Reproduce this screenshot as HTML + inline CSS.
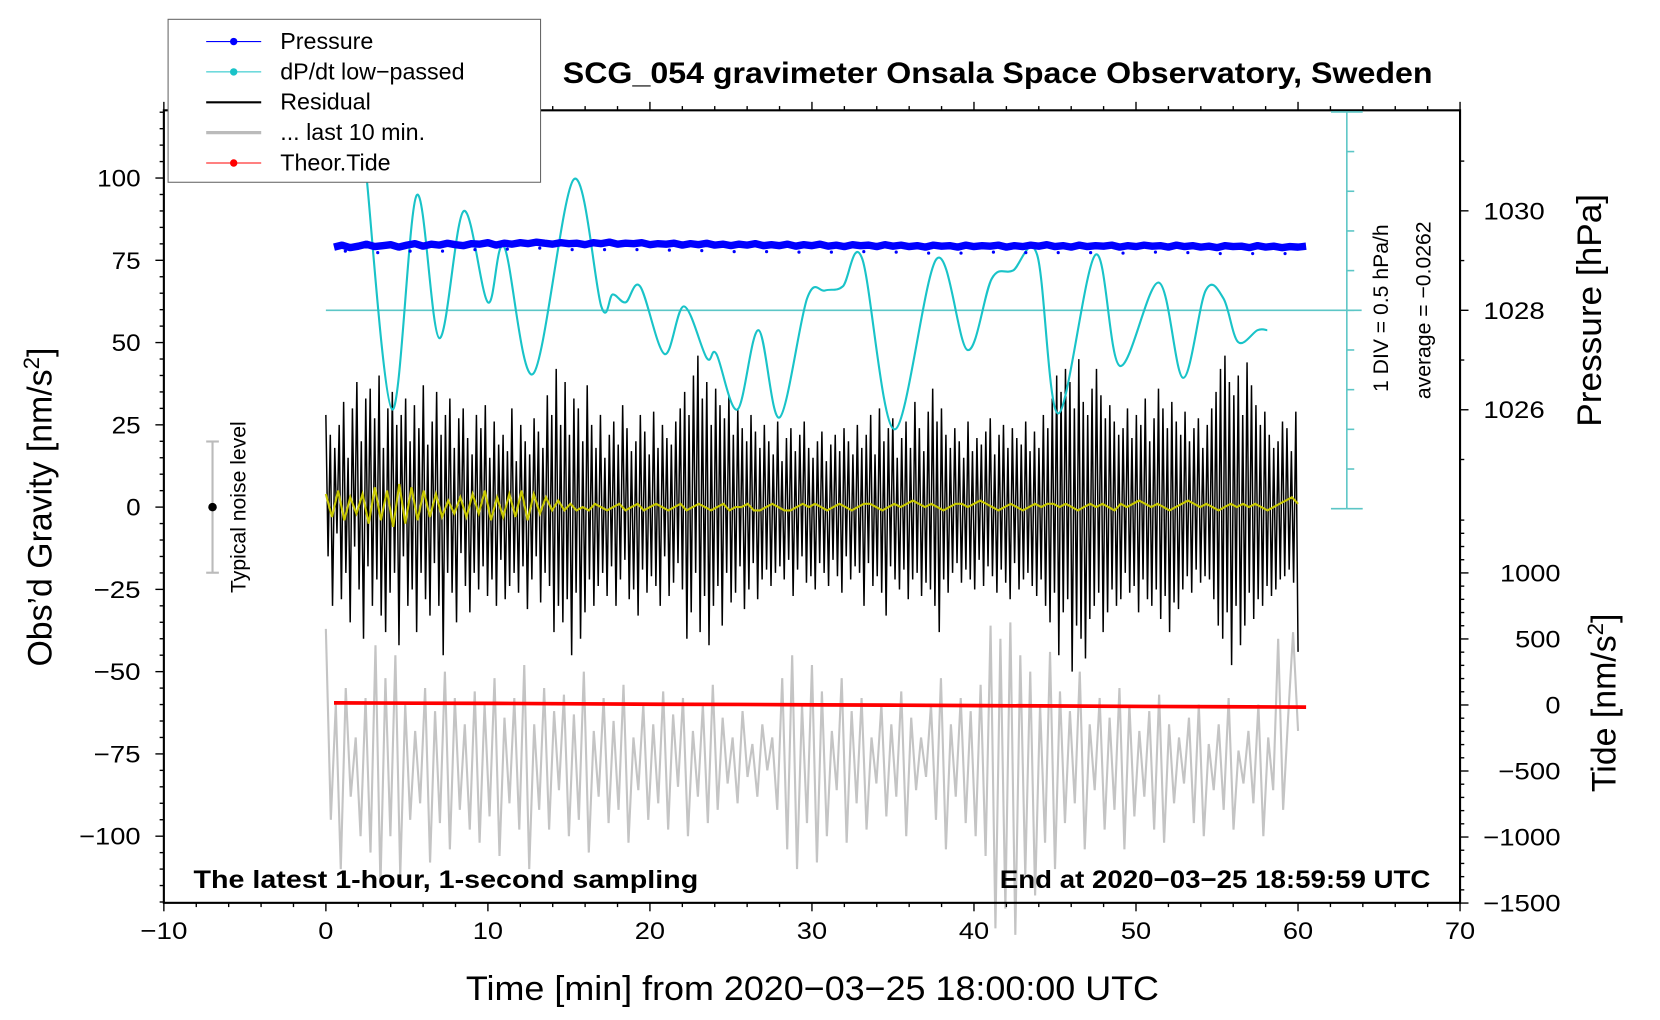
<!DOCTYPE html>
<html><head><meta charset="utf-8">
<style>
html,body{margin:0;padding:0;background:#fff;}
svg{display:block;font-family:"Liberation Sans",sans-serif;}
</style></head>
<body>
<svg id="chart" width="1660" height="1020" viewBox="0 0 1550 952.4" xmlns="http://www.w3.org/2000/svg"><g id="root" transform="translate(153,103) scale(0.988) translate(-153,-103)"></g></svg>
<script>
// ---- data ----
const xTicks=[-10,0,10,20,30,40,50,60,70];
const gravTicks=[100,75,50,25,0,-25,-50,-75,-100];
const pressTicks=[1030,1028,1026];
const tideTicks=[1000,500,0,-500,-1000,-1500];
// dP/dt low-passed (divisions from center line, 1 div = 0.5 hPa/h)
const dpT=[2.5,4.1,5.6,7,8.5,10,11,12.8,15.3,17,17.7,18.5,19.4,20.9,22.1,23.5,24.1,25.4,26.7,28,29.7,30.8,31.9,33.1,35.1,37.7,39.6,41.1,42.4,43.9,45.2,47.5,49,51.4,52.9,54.3,55.4,56.3,57.5,58.1];
const dpV=[3.4,-2.5,2.9,-0.7,2.5,0.2,1.6,-1.6,3.3,0.1,0.4,0.2,0.6,-1.1,0.1,-1.2,-1.1,-2.5,-0.5,-2.7,0.3,0.5,0.6,1.3,-3.0,1.3,-1.0,0.8,1.0,1.4,-2.6,1.4,-1.4,0.7,-1.7,0.5,0.3,-0.8,-0.5,-0.5];
// Pressure (hPa), every 0.5 min from 0.5
const pressV=[1029.27,1029.31,1029.26,1029.29,1029.33,1029.28,1029.30,1029.32,1029.27,1029.31,1029.34,1029.29,1029.33,1029.31,1029.35,1029.32,1029.30,1029.34,1029.33,1029.36,1029.31,1029.35,1029.33,1029.36,1029.34,1029.37,1029.35,1029.33,1029.36,1029.34,1029.35,1029.32,1029.36,1029.34,1029.37,1029.33,1029.35,1029.34,1029.36,1029.32,1029.34,1029.33,1029.35,1029.31,1029.34,1029.32,1029.35,1029.31,1029.33,1029.30,1029.33,1029.31,1029.34,1029.30,1029.32,1029.30,1029.33,1029.29,1029.32,1029.30,1029.33,1029.29,1029.31,1029.28,1029.32,1029.30,1029.31,1029.28,1029.32,1029.29,1029.31,1029.28,1029.30,1029.27,1029.31,1029.29,1029.30,1029.27,1029.31,1029.28,1029.30,1029.29,1029.31,1029.27,1029.30,1029.28,1029.31,1029.29,1029.32,1029.28,1029.30,1029.27,1029.31,1029.28,1029.30,1029.29,1029.31,1029.27,1029.30,1029.28,1029.31,1029.29,1029.30,1029.27,1029.31,1029.28,1029.30,1029.27,1029.29,1029.26,1029.30,1029.28,1029.29,1029.26,1029.30,1029.27,1029.29,1029.26,1029.28,1029.27,1029.29];
// Residual (nm/s^2)
const resV=[28,-15,22,-30,18,-8,25,-28,32,-20,15,-35,30,-12,38,-25,20,-40,33,-18,36,-30,27,-22,40,-33,18,-38,30,-26,35,-20,25,-42,28,-15,33,-30,20,-25,
31,-38,24,-20,37,-28,19,-33,26,-17,35,-30,22,-45,28,-20,33,-26,18,-35,27,-14,30,-24,21,-32,16,-20,28,-25,24,-18,31,-27,15,-22,26,-30,19,-16,
22,-28,17,-24,30,-20,14,-26,25,-18,20,-31,16,-22,27,-15,23,-29,18,-20,34,-24,28,-38,42,-30,25,-35,38,-28,22,-45,33,-26,30,-40,20,-32,37,-22,
25,-30,18,-24,28,-20,15,-27,22,-18,26,-30,19,-22,31,-16,24,-28,17,-25,20,-33,28,-19,23,-26,16,-21,29,-24,18,-30,25,-15,21,-27,19,-23,26,-17,
30,-25,35,-40,28,-32,40,-20,46,-38,33,-27,38,-42,25,-30,36,-24,31,-36,27,-20,34,-29,22,-26,30,-18,24,-31,20,-25,28,-17,23,-28,18,-22,25,-19,
20,-24,16,-20,26,-18,14,-22,21,-16,24,-27,17,-19,22,-15,26,-23,18,-21,15,-25,20,-17,23,-20,14,-24,19,-16,22,-21,17,-26,24,-15,20,-22,16,-18,
25,-20,18,-30,22,-17,28,-24,16,-21,30,-26,20,-33,24,-18,27,-22,15,-25,21,-19,26,-28,18,-22,32,-20,24,-27,17,-23,29,-25,36,-30,26,-38,30,-22,
22,-26,18,-20,24,-17,20,-23,15,-19,26,-22,17,-25,21,-16,19,-24,23,-18,27,-21,16,-26,22,-19,25,-23,18,-28,24,-17,21,-25,19,-22,26,-20,17,-24,
23,-27,18,-22,28,-30,24,-35,33,-26,40,-45,35,-32,42,-28,38,-50,30,-36,45,-40,32,-46,28,-34,36,-30,42,-26,34,-38,27,-32,31,-25,26,-30,22,-28,
24,-20,30,-26,21,-24,28,-32,25,-22,33,-28,20,-30,27,-25,36,-34,30,-27,24,-38,32,-29,26,-31,22,-25,29,-21,20,-26,24,-19,27,-23,18,-21,25,-22,
30,-28,35,-36,42,-40,46,-32,38,-48,34,-30,40,-42,28,-36,44,-26,37,-34,31,-28,25,-30,29,-24,22,-27,18,-25,20,-22,26,-21,24,-19,17,-23,29,-44];
// Last 10 min (nm/s^2 on gravity axis)
const grayV=[-37,-95,-60,-110,-55,-88,-70,-100,-58,-105,-42,-115,-52,-100,-45,-112,-60,-95,-68,-90,-55,-108,-62,-96,-50,-104,-58,-92,-66,-98,-56,-102,-60,-94,-52,-106,-64,-90,-58,-98,
-48,-110,-66,-92,-55,-98,-62,-86,-57,-100,-63,-95,-50,-105,-68,-88,-58,-96,-65,-92,-54,-102,-70,-86,-60,-95,-66,-90,-56,-98,-63,-85,-58,-100,-68,-88,-60,-96,-54,-92,
-64,-84,-70,-90,-62,-82,-72,-88,-66,-80,-70,-92,-52,-104,-45,-110,-60,-96,-48,-108,-56,-100,-68,-86,-52,-102,-62,-90,-58,-98,-70,-84,-60,-94,-66,-88,-56,-100,-64,-86,
-70,-82,-60,-95,-52,-104,-66,-88,-58,-96,-62,-100,-54,-106,-36,-128,-40,-122,-35,-130,-45,-112,-50,-118,-60,-102,-44,-110,-56,-96,-62,-90,-50,-104,-66,-86,-58,-98,
-64,-92,-55,-104,-60,-94,-68,-88,-62,-98,-57,-102,-66,-90,-70,-84,-64,-96,-60,-100,-72,-86,-66,-92,-58,-98,-74,-84,-68,-90,-60,-100,-70,-86,-40,-92,-64,-38,-68];
// Yellow (low-passed residual)
const yelV=[4,-3,5,-4,3,-2,4,-5,6,-4,5,-6,7,-5,6,-4,5,-3,4,-3,2,-2,3,-3,4,-2,5,-4,3,-3,4,-3,5,-4,4,-2,3,-1,2,-1,
1,-1,0,-1,1,0,-1,0,1,-1,0,1,-1,0,1,0,-1,0,1,-1,0,1,0,-1,0,1,-1,0,0,1,-1,-1,0,1,0,-1,-1,0,1,0,
1,0,-1,0,1,0,-1,0,1,1,0,-1,0,1,0,1,2,1,0,1,0,-1,0,1,1,0,1,2,1,0,-1,0,1,0,-1,0,1,0,1,1,
0,1,0,-1,0,1,0,1,0,-1,1,0,1,2,1,0,1,0,-1,0,1,2,1,0,1,0,-1,0,1,0,1,0,1,0,-1,0,1,2,3,1];
// Theoretical tide (nm/s^2), every 5 min from 0.5
const tideV=[16,14,12,9,6,4,1,-2,-5,-8,-11,-14,-16];

// ---- scales ----
const L=153,R=1378,T=103,B=852;
const xs=v=>L+(v+10)*(R-L)/80;
const gy=v=>478-v*3.11;
const py=v=>292-(v-1028)*47;
const ty=v=>665-v*0.1248;
const dy=v=>292-v*37.5;

const NS='http://www.w3.org/2000/svg';
const svg=document.getElementById('root');
function mk(tag,attrs,parent){const e=document.createElementNS(NS,tag);for(const k in attrs)e.setAttribute(k,attrs[k]);(parent||svg).appendChild(e);return e;}
function txt(s,attrs,parent){const e=mk('text',attrs,parent);e.textContent=s;return e;}
function numLen(s,dw,mw){let n=0;for(const c of s){n+=(c==='\u2212')?mw:dw;}return n;}

// ---- series ----
let d='';grayV.forEach((v,i)=>{d+=(i?'L':'M')+xs(i*60/(grayV.length-1)).toFixed(1)+' '+gy(v).toFixed(1);});
const gp=mk('path',{d:d,fill:'none',stroke:'#c4c4c4','stroke-width':2});


d='';resV.forEach((v,i)=>{d+=(i?'L':'M')+xs(i*60/(resV.length-1)).toFixed(1)+' '+gy(v).toFixed(1);});
const rp=mk('path',{d:d,fill:'none',stroke:'#000','stroke-width':1.4});


d='';yelV.forEach((v,i)=>{d+=(i?'L':'M')+xs(i*60/(yelV.length-1)).toFixed(1)+' '+gy(v).toFixed(1);});
const yp=mk('path',{d:d,fill:'none',stroke:'#c8c800','stroke-width':2});


d='';tideV.forEach((v,i)=>{d+=(i?'L':'M')+xs(0.5+i*5).toFixed(1)+' '+ty(v).toFixed(1);});
const tp=mk('path',{d:d,fill:'none',stroke:'#f00','stroke-width':3.5});


const cl=mk('line',{x1:xs(0),x2:1285,y1:dy(0),y2:dy(0),stroke:'#5cc6c6','stroke-width':1.5});


function smooth(pts){let s='M'+pts[0][0]+' '+pts[0][1];for(let i=0;i<pts.length-1;i++){const p0=pts[Math.max(0,i-1)],p1=pts[i],p2=pts[i+1],p3=pts[Math.min(pts.length-1,i+2)];
const c1x=p1[0]+(p2[0]-p0[0])/6,c1y=p1[1]+(p2[1]-p0[1])/6,c2x=p2[0]-(p3[0]-p1[0])/6,c2y=p2[1]-(p3[1]-p1[1])/6;
s+='C'+c1x.toFixed(1)+' '+c1y.toFixed(1)+' '+c2x.toFixed(1)+' '+c2y.toFixed(1)+' '+p2[0].toFixed(1)+' '+p2[1].toFixed(1);}return s;}
const clip=mk('clipPath',{id:'pc'});mk('rect',{x:L,y:T,width:R-L,height:B-T},clip);
const dp=mk('path',{d:smooth(dpT.map((t,i)=>[xs(t),dy(dpV[i])])),fill:'none',stroke:'#19c3c8','stroke-width':2,'clip-path':'url(#pc)'});


const pg=mk('g',{fill:'#0000ff'});


d='';pressV.forEach((v,i)=>{d+=(i?'L':'M')+xs(0.5+i*0.5).toFixed(1)+' '+py(v).toFixed(1);});
mk('path',{d:d,fill:'none',stroke:'#0000ff','stroke-width':7,'stroke-linejoin':'bevel'},pg);
pressV.forEach((v,i)=>{if(i%4===1){const c=mk('circle',{cx:xs(0.5+i*0.5+0.2),cy:py(v-0.12),r:1.5},pg);

}});

// ---- frame & axes ----
const ax=mk('g',{stroke:'#000','stroke-width':1.3,fill:'none'});


mk('rect',{x:L,y:T,width:R-L,height:B-T,'stroke-width':2},ax);
for(let v=-10;v<=70;v+=2){const M=v%10===0;const x=xs(v);mk('line',{x1:x,x2:x,y1:B,y2:B+(M?8:4)},ax);mk('line',{x1:x,x2:x,y1:T,y2:T-(M?8:4)},ax);}
for(let v=-120;v<=120;v+=5){const M=v%25===0;const y=gy(v);mk('line',{x1:L,x2:L-(M?8:4),y1:y,y2:y},ax);}
for(let v=1025;v<=1031;v++){const y=py(v);mk('line',{x1:R,x2:R+(v%2===0?8:4),y1:y,y2:y},ax);}
for(let v=-1500;v<=1400;v+=100){const y=ty(v);if(y<478)continue;mk('line',{x1:R,x2:R+(v%500===0?8:4),y1:y,y2:y},ax);}
const sb=mk('g',{stroke:'#5cc6c6','stroke-width':1.5});


mk('line',{x1:1271,x2:1271,y1:dy(5),y2:dy(-5)},sb);
for(let k=-5;k<=5;k++){const y=dy(k);const w=(k===5||k===-5)?15:7;mk('line',{x1:1271,x2:1271+w,y1:y,y2:y},sb);if(k===5||k===-5)mk('line',{x1:1256,x2:1271,y1:y,y2:y},sb);}

// tick labels
const tl=mk('g',{'font-size':23,fill:'#000'});
const LA='spacingAndGlyphs';
xTicks.forEach(v=>{const s=String(v).replace('-','\u2212');const e=txt(s,{x:xs(v),y:B+34,'text-anchor':'middle',textLength:numLen(s,14.3,16),lengthAdjust:LA},tl);});
gravTicks.forEach(v=>{const s=String(v).replace('-','\u2212');const e=txt(s,{x:131,y:gy(v)+8,'text-anchor':'end',textLength:numLen(s,13.7,17),lengthAdjust:LA},tl);});
pressTicks.forEach(v=>{const s=String(v);const e=txt(s,{x:1400,y:py(v)+8,textLength:numLen(s,14.5,16),lengthAdjust:LA},tl);});
tideTicks.forEach(v=>{const s=String(v).replace('-','\u2212');const e=txt(s,{x:1473,y:ty(v)+8,'text-anchor':'end',textLength:numLen(s,14.3,16),lengthAdjust:LA},tl);});

// axis titles
const at=mk('g',{'font-size':32,fill:'#000'});
let e;
e=txt('Time [min] from 2020\u221203\u221225 18:00:00 UTC',{x:766,y:944,'text-anchor':'middle',textLength:655,lengthAdjust:LA},at);
e=mk('text',{transform:'translate(47,478) rotate(-90)','text-anchor':'middle'},at);e.innerHTML='Obs\u2019d Gravity [nm/s<tspan font-size="21" dy="-12">2</tspan><tspan dy="12">]</tspan>';
e=txt('Pressure [hPa]',{transform:'translate(1511,292) rotate(-90)','text-anchor':'middle',textLength:220,lengthAdjust:LA},at);
e=mk('text',{transform:'translate(1525,663) rotate(-90)','text-anchor':'middle'},at);e.innerHTML='Tide [nm/s<tspan font-size="21" dy="-12">2</tspan><tspan dy="12">]</tspan>';

e=txt('SCG_054 gravimeter Onsala Space Observatory, Sweden',{x:941,y:77,'text-anchor':'middle','font-size':28,'font-weight':'bold',textLength:822,lengthAdjust:LA});
e=txt('The latest 1-hour, 1-second sampling',{x:181,y:838,'font-size':24,'font-weight':'bold',textLength:477,lengthAdjust:LA});
e=txt('End at 2020\u221203\u221225 18:59:59 UTC',{x:1350,y:838,'text-anchor':'end','font-size':24,'font-weight':'bold',textLength:407,lengthAdjust:LA});
e=txt('1 DIV = 0.5 hPa/h',{transform:'translate(1310,290) rotate(-90)','text-anchor':'middle','font-size':20});
e=txt('average = \u22120.0262',{transform:'translate(1350,292) rotate(-90)','text-anchor':'middle','font-size':20});

// noise level
const nl=mk('g',{});


mk('line',{x1:199,x2:199,y1:416,y2:540,stroke:'#bbb','stroke-width':2},nl);
mk('line',{x1:193,x2:205,y1:416,y2:416,stroke:'#bbb','stroke-width':2},nl);
mk('line',{x1:193,x2:205,y1:540,y2:540,stroke:'#bbb','stroke-width':2},nl);
mk('circle',{cx:199,cy:478,r:4,fill:'#000'},nl);
txt('Typical noise level',{transform:'translate(230,478) rotate(-90)','text-anchor':'middle','font-size':20},nl);

// legend
const lg=mk('g',{});


mk('rect',{x:157,y:17,width:352,height:154,fill:'#fff',stroke:'#666','stroke-width':1},lg);
const items=[['Pressure','#0000ff',1,true],['dP/dt low\u2212passed','#19c3c8',1,true],['Residual','#000',2,false],['... last 10 min.','#bbb',3,false],['Theor.Tide','#f00',1,true]];
items.forEach((it,i)=>{const y=38+i*28.7;const g=mk('g',{},lg);


mk('line',{x1:193,x2:245,y1:y,y2:y,stroke:it[1],'stroke-width':it[2]},g);
if(it[3])mk('circle',{cx:219,cy:y,r:3.5,fill:it[1]},g);
txt(it[0],{x:263,y:y+7,'font-size':22},g);});
</script>
</body></html>
